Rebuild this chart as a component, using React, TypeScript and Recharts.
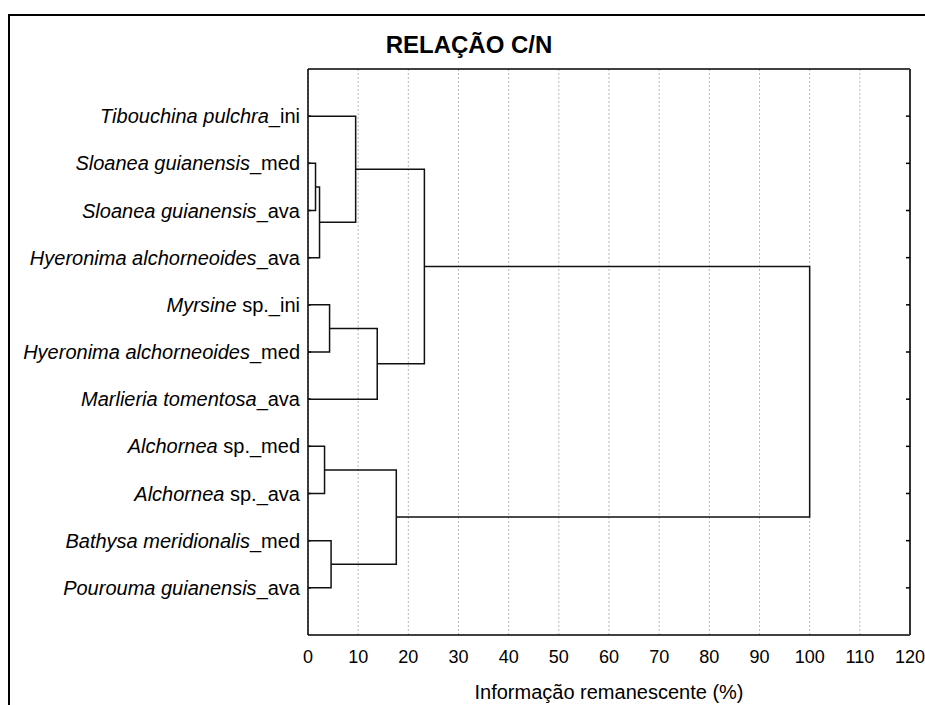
import React, { useLayoutEffect } from 'react';
import {
  ComposedChart,
  Scatter,
  XAxis,
  YAxis,
  CartesianGrid,
} from 'recharts';

// Leaves (top to bottom): italic part + plain suffix
const leafItalic = [
  'Tibouchina pulchra',
  'Sloanea guianensis',
  'Sloanea guianensis',
  'Hyeronima alchorneoides',
  'Myrsine',
  'Hyeronima alchorneoides',
  'Marlieria tomentosa',
  'Alchornea',
  'Alchornea',
  'Bathysa meridionalis',
  'Pourouma guianensis',
];
const leafSuffix = [
  '_ini',
  '_med',
  '_ava',
  '_ava',
  ' sp._ini',
  '_med',
  '_ava',
  ' sp._med',
  ' sp._ava',
  '_med',
  '_ava',
];

// Merge steps (node ids: leaves 0..10, merges 11..20)
const mergeLeft = [1, 11, 0, 4, 14, 13, 7, 9, 17, 16];
const mergeRight = [2, 3, 12, 5, 6, 15, 8, 10, 18, 19];
const mergeHeight = [1.5, 2.3, 9.5, 4.3, 13.8, 23.2, 3.3, 4.6, 17.6, 100];

const xMajorTicks = [0, 10, 20, 30, 40, 50, 60, 70, 80, 90, 100, 110, 120];
const xMinorTicks = [0, 2, 4, 6, 8, 10, 12, 14, 16, 18, 20, 22, 24, 26, 28, 30, 32, 34, 36, 38, 40, 42, 44, 46, 48, 50, 52, 54, 56, 58, 60, 62, 64, 66, 68, 70, 72, 74, 76, 78, 80, 82, 84, 86, 88, 90, 92, 94, 96, 98, 100, 102, 104, 106, 108, 110, 112, 114, 116, 118, 120];
const xTopTicks = [0, 4, 8, 12, 16, 20, 24, 28, 32, 36, 40, 44, 48, 52, 56, 60, 64, 68, 72, 76, 80, 84, 88, 92, 96, 100, 104, 108, 112, 116, 120];
const leafTicks = [1, 2, 3, 4, 5, 6, 7, 8, 9, 10, 11];

type Pt = { x: number; y: number };

const nodes: Pt[] = leafItalic.map((_, i) => ({ x: 0, y: i + 1 }));
const links: Pt[][] = [];
mergeHeight.forEach((h, k) => {
  const a = nodes[mergeLeft[k]];
  const b = nodes[mergeRight[k]];
  links.push([
    { x: a.x, y: a.y },
    { x: h, y: a.y },
    { x: h, y: b.y },
    { x: b.x, y: b.y },
  ]);
  nodes.push({ x: h, y: (a.y + b.y) / 2 });
});

const FONT = '"Liberation Sans", Arial, sans-serif';

const LeafTick = (props: any) => {
  const { x, y, payload } = props;
  const i = Math.round(payload.value) - 1;
  if (i < 0 || i >= leafItalic.length) return <g />;
  return (
    <text
      x={x}
      y={y}
      dy="0.35em"
      textAnchor="end"
      fontFamily={FONT}
      fontSize={20}
      fill="#000"
    >
      <tspan fontStyle="italic">{leafItalic[i]}</tspan>
      <tspan>{leafSuffix[i]}</tspan>
    </text>
  );
};

const empty = () => '';
const noShape = () => <g />;

export default function App() {
  useLayoutEffect(() => {
    document.body.style.margin = '0';
  }, []);
  return (
    <div style={{ position: 'relative', width: 925, height: 705, fontFamily: FONT, overflow: 'hidden', background: '#fff' }}>
      <div
        style={{
          position: 'absolute',
          left: 8,
          top: 14,
          width: 940,
          height: 720,
          borderTop: '2px solid #000',
          borderLeft: '2px solid #000',
          boxSizing: 'border-box',
        }}
      />
      <div
        style={{
          position: 'absolute',
          left: 8,
          top: 31,
          width: 922,
          textAlign: 'center',
          fontWeight: 'bold',
          fontSize: 24,
          lineHeight: '28px',
          color: '#000',
        }}
      >
        RELAÇÃO C/N
      </div>
      <div style={{ position: 'absolute', left: 8, top: 8 }}>
        <ComposedChart
          width={917}
          height={697}
          margin={{ top: 61, right: 15, bottom: 0, left: 0 }}
        >
          <CartesianGrid
            horizontal={false}
            vertical={true}
            stroke="#b8b8b8"
            strokeDasharray="2 2"
          />
          <XAxis
            type="number"
            dataKey="x"
            domain={[0, 120]}
            ticks={xMajorTicks}
            allowDataOverflow
            height={70}
            tickLine={false}
            tickSize={0}
            tickMargin={15}
            axisLine={{ stroke: '#000', strokeWidth: 1.5 }}
            tick={{ fill: '#000', fontSize: 18, fontFamily: FONT }}
            interval={0}
            label={{
              value: 'Informação remanescente (%)',
              position: 'insideBottom',
              offset: 6,
              fill: '#000',
              fontSize: 20,
              fontFamily: FONT,
            }}
          />
          <XAxis
            xAxisId="bmaj"
            type="number"
            domain={[0, 120]}
            ticks={xMajorTicks}
            allowDataOverflow
            mirror
            axisLine={false}
            tickSize={5}
            tickLine={{ stroke: '#000', strokeWidth: 1.5 }}
            tickFormatter={empty}
            interval={0}
          />
          <XAxis
            xAxisId="bmin"
            type="number"
            domain={[0, 120]}
            ticks={xMinorTicks}
            allowDataOverflow
            mirror
            axisLine={false}
            tickSize={2.5}
            tickLine={{ stroke: '#000', strokeWidth: 1 }}
            tickFormatter={empty}
            interval={0}
          />
          <XAxis
            xAxisId="top"
            orientation="top"
            type="number"
            domain={[0, 120]}
            ticks={xTopTicks}
            allowDataOverflow
            mirror
            axisLine={{ stroke: '#000', strokeWidth: 1.5 }}
            tickSize={3}
            tickLine={{ stroke: '#000', strokeWidth: 1 }}
            tickFormatter={empty}
            interval={0}
          />
          <YAxis
            type="number"
            dataKey="y"
            domain={[0, 12]}
            ticks={leafTicks}
            reversed
            allowDataOverflow
            width={300}
            tickLine={false}
            tickSize={0}
            tickMargin={8}
            axisLine={{ stroke: '#000', strokeWidth: 1.5 }}
            tick={<LeafTick />}
            interval={0}
          />
          <YAxis
            yAxisId="lin"
            type="number"
            domain={[0, 12]}
            ticks={leafTicks}
            reversed
            allowDataOverflow
            mirror
            axisLine={false}
            tickSize={3}
            tickLine={{ stroke: '#000', strokeWidth: 1.5 }}
            tickFormatter={empty}
            interval={0}
          />
          <YAxis
            yAxisId="r"
            orientation="right"
            type="number"
            domain={[0, 12]}
            ticks={leafTicks}
            reversed
            allowDataOverflow
            mirror
            axisLine={{ stroke: '#333', strokeWidth: 2 }}
            tickSize={4}
            tickLine={{ stroke: '#000', strokeWidth: 1.5 }}
            tickFormatter={empty}
            interval={0}
          />
          {links.map((pts, k) => (
            <Scatter
              key={k}
              data={pts}
              dataKey="y"
              line={{ stroke: '#111', strokeWidth: 1.5 }}
              lineType="joint"
              shape={noShape}
              isAnimationActive={false}
            />
          ))}
        </ComposedChart>
      </div>
    </div>
  );
}
